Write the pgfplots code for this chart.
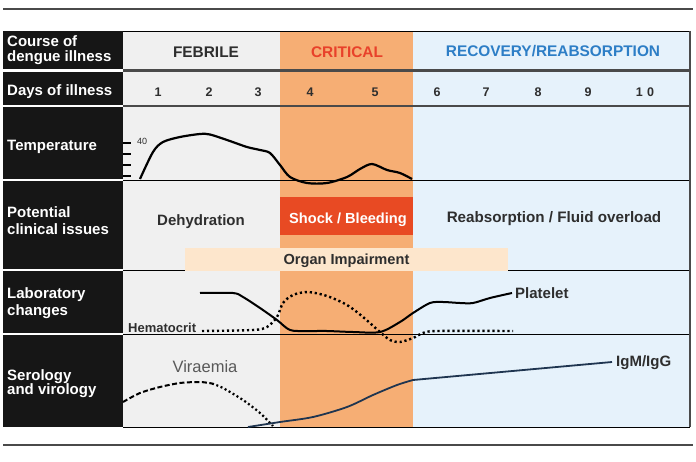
\documentclass[border=0pt]{standalone}
\usepackage{pgfplots}
\pgfplotsset{compat=1.18}
\usepackage{fontspec}
\setmainfont{Liberation Sans}
\definecolor{blk}{HTML}{161616}
\definecolor{febbg}{HTML}{F0F0F0}
\definecolor{critbg}{HTML}{F6AE74}
\definecolor{recbg}{HTML}{E6F2FB}
\definecolor{shock}{HTML}{E84A23}
\definecolor{organ}{HTML}{FDE6CC}
\definecolor{crittxt}{HTML}{E8412A}
\definecolor{rectxt}{HTML}{2D7EC6}
\definecolor{igm}{HTML}{1F3550}
\definecolor{dtxt}{HTML}{2E2E2E}
\definecolor{rulec}{HTML}{4A4A4A}
\definecolor{thin}{HTML}{A8A8A8}
\newcommand\fsz[1]{\fontsize{#1bp}{#1bp}\selectfont}
\begin{document}
\begin{tikzpicture}
\begin{axis}[scale only axis, width=696bp, height=462bp,
  xmin=0, xmax=696, ymin=0, ymax=462, y dir=reverse,
  hide axis, clip=false]
\fill[white] (0,0) rectangle (696,462);
% column backgrounds
\fill[febbg] (123,31) rectangle (280,427);
\fill[critbg] (280,31) rectangle (413,427);
\fill[recbg] (413,31) rectangle (690,427);
% black label cells
\fill[blk] (3,31) rectangle (123,69);
\fill[blk] (3,72) rectangle (123,105);
\fill[blk] (3,107.5) rectangle (123,179);
\fill[blk] (3,181) rectangle (123,269);
\fill[blk] (3,271) rectangle (123,333);
\fill[blk] (3,335) rectangle (123,427);
% outer rules
\draw[line width=1.6bp, rulec] (3,9) -- (693,9);
\draw[line width=1.6bp, rulec] (3,445) -- (693,445);
% row lines
\draw[line width=1bp, thin] (123,31) -- (690,31);
\draw[line width=2.2bp, rulec] (123,70.5) -- (690,70.5);
\draw[line width=2.2bp, rulec] (123,106) -- (690,106);
\draw[line width=0.9bp, thin] (123,180) -- (690,180);
\draw[line width=0.9bp, thin] (123,270) -- (690,270);
\draw[line width=0.9bp, thin] (123,334) -- (690,334);
\draw[line width=0.9bp, thin] (123,427) -- (690,427);
\draw[line width=2.2bp, rulec] (690,31) -- (690,427);
% shock box and organ bar
\fill[shock] (280,197) rectangle (413,235);
\fill[organ] (185,248) rectangle (508,270.5);
% temperature ticks
\draw[line width=1.3bp, black] (123,143) -- (131,143);
\draw[line width=1.3bp, black] (123,154) -- (131,154);
\draw[line width=1.3bp, black] (123,165) -- (131,165);
\draw[line width=1.3bp, black] (123,176) -- (131,176);
% temperature curve
\addplot[smooth, tension=0.5, line width=2.2bp, black] coordinates {
(140,179) (153,152) (163,142) (180,137) (200,134) (210,134.5) (227,140) (247,147)
(260,150) (270,153) (280,165) (290,177) (307,183) (327,183) (347,177) (360,169)
(372,164) (387,170) (400,173) (412,179)};
% platelet
\addplot[smooth, tension=0.5, line width=2bp, black] coordinates {
(200,293) (233,293) (243,297) (260,308) (277,320) (290,330) (307,331) (327,331)
(353,332) (380,332) (400,322) (413,313) (430,303) (443,302) (460,303) (473,303)
(490,298) (512,293)};
% hematocrit
\addplot[smooth, tension=0.5, line width=2.4bp, black, dash pattern=on 2.2bp off 2.8bp] coordinates {
(202,331) (253,330) (267,327) (277,317) (283,303) (293,295) (308,292) (327,296)
(347,305) (363,317) (380,332) (390,340) (400,342) (413,338) (423,333) (437,331) (513,331)};
% viraemia
\addplot[smooth, tension=0.5, line width=2bp, black, dash pattern=on 5bp off 2.5bp] coordinates {
(123,402) (140,393) (160,387) (180,383) (200,382) (212,383.5)};
\addplot[smooth, tension=0.5, line width=2.2bp, black, dash pattern=on 2bp off 2.6bp] coordinates {
(212,383.5) (223,388) (243,400) (260,413) (273,426)};
% IgM/IgG
\addplot[smooth, tension=0.5, line width=1.8bp, igm] coordinates {
(248,427) (280,422) (313,417) (347,407) (373,395) (397,385) (413,380)};
\addplot[line width=1.8bp, igm] coordinates {(413,380) (612,362)};
% left labels
\begin{scope}[every node/.style={anchor=base west, text=white, font=\fsz{15}\bfseries, inner sep=0pt}]
\node at (7,47) {Course of};
\node at (7,62) {dengue illness};
\node at (7,95) {Days of illness};
\node at (7,150) {Temperature};
\node at (7,217) {Potential};
\node at (7,234) {clinical issues};
\node at (7,298) {Laboratory};
\node at (7,315) {changes};
\node at (7,380) {Serology};
\node at (7,394) {and virology};
\end{scope}
% phase headers
\begin{scope}[every node/.style={anchor=base, font=\fsz{15.4}\bfseries, inner sep=0pt}]
\node[text=dtxt] at (206,58) {FEBRILE};
\node[text=crittxt] at (347,58) {CRITICAL};
\node[text=rectxt] at (553,57) {RECOVERY/REABSORPTION};
\end{scope}
% days
\begin{scope}[every node/.style={anchor=base, text=dtxt, font=\fsz{12.5}\bfseries, inner sep=0pt}]
\node at (158,96) {1};
\node at (209,96) {2};
\node at (258,96) {3};
\node at (310,96) {4};
\node at (375,96) {5};
\node at (437,96) {6};
\node at (486,96) {7};
\node at (538,96) {8};
\node at (588,96) {9};
\node at (645,96) {1\,\,0};
\end{scope}
% other texts
\node[anchor=base west, text=dtxt, font=\fsz{9}, inner sep=0pt] at (137,144) {40};
\node[anchor=base, text=dtxt, font=\fsz{15}\bfseries, inner sep=0pt] at (201,225) {Dehydration};
\node[anchor=base, text=dtxt, font=\fsz{15.2}\bfseries, inner sep=0pt] at (554,222) {Reabsorption / Fluid overload};
\node[anchor=base, text=white, font=\fsz{14.6}\bfseries, inner sep=0pt] at (348,223) {Shock / Bleeding};
\node[anchor=base, text=dtxt, font=\fsz{14.6}\bfseries, inner sep=0pt] at (346.5,264) {Organ Impairment};
\node[anchor=base west, text=dtxt, font=\fsz{15}\bfseries, inner sep=0pt] at (515,298) {Platelet};
\node[anchor=base west, text=dtxt, font=\fsz{13}\bfseries, inner sep=0pt] at (128,332) {Hematocrit};
\node[anchor=base, text=black!65, font=\fsz{16.5}, inner sep=0pt] at (205,372) {Viraemia};
\node[anchor=base west, text=dtxt, font=\fsz{15}\bfseries, inner sep=0pt] at (616,366) {IgM/IgG};
\draw[draw=none] (0,0) rectangle (696,462);
\end{axis}
\end{tikzpicture}
\end{document}
